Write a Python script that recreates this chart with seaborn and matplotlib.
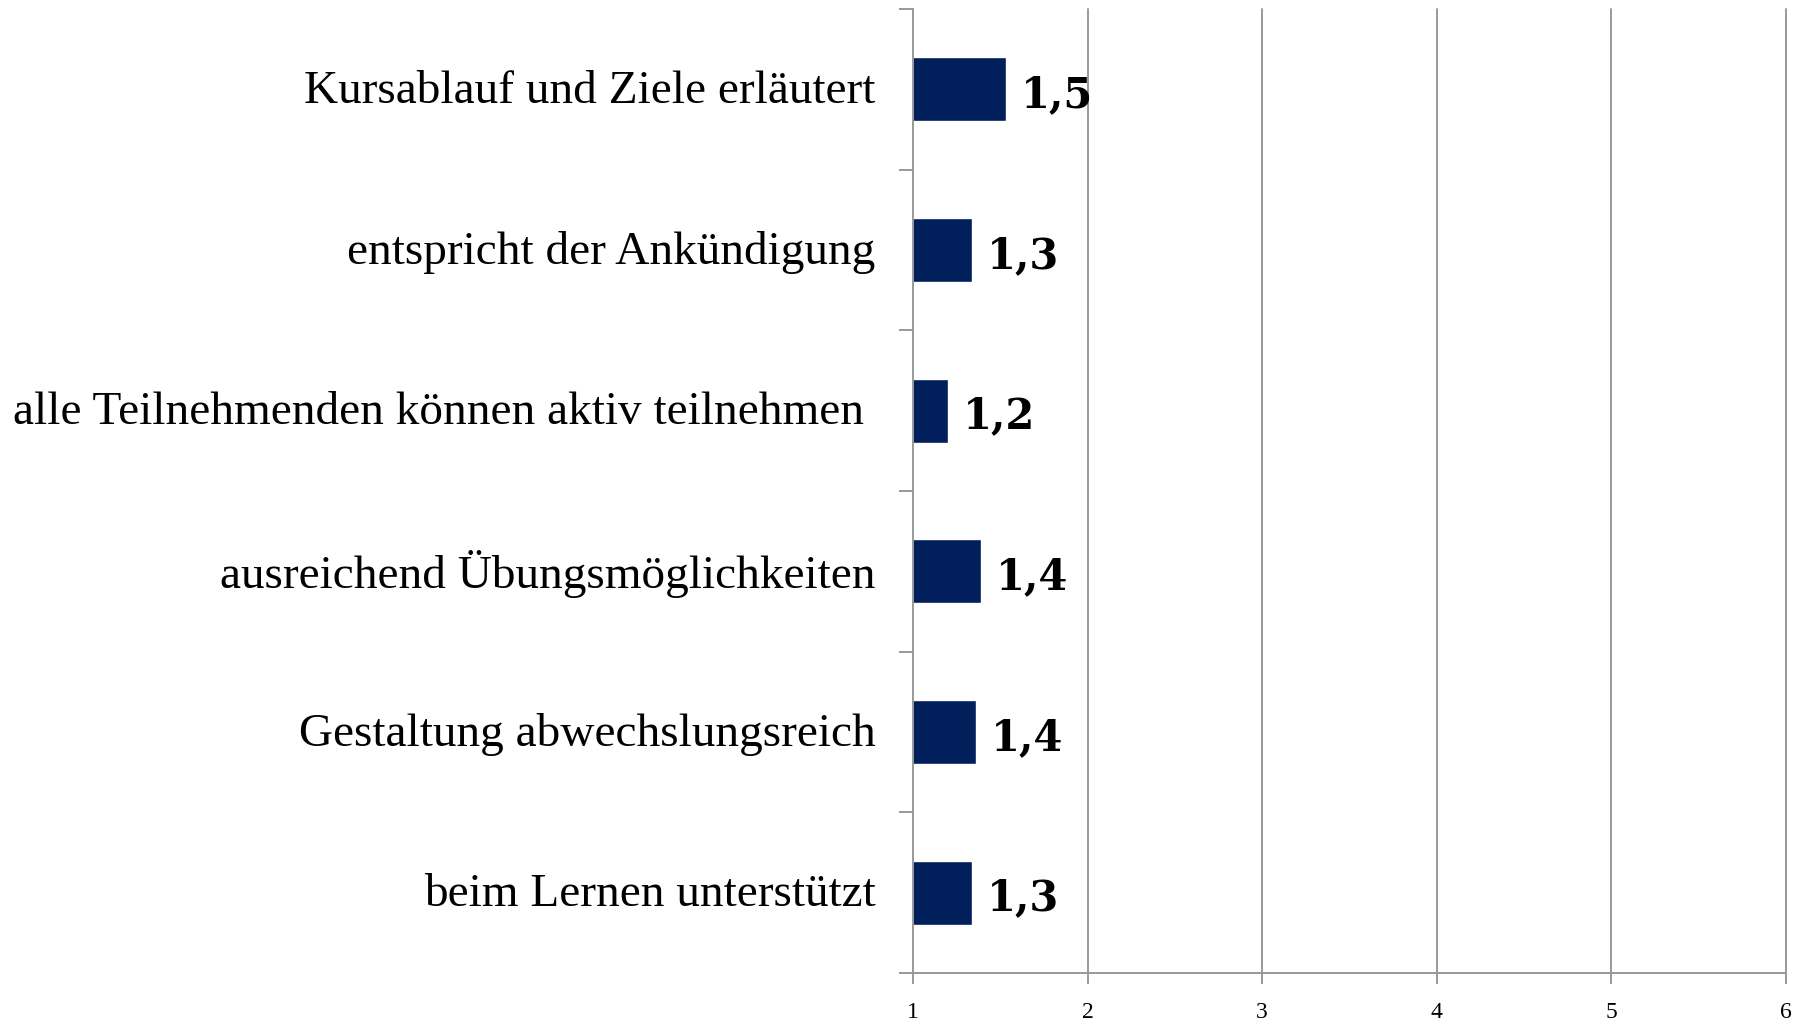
import matplotlib
matplotlib.use("Agg")
import matplotlib.pyplot as plt
import matplotlib.transforms as mtransforms
import seaborn as sns
import pandas as pd
import numpy as np

# Survey items (top to bottom) and mean ratings on a 1-6 scale
categories = [
    "Kursablauf und Ziele erläutert",
    "entspricht der Ankündigung",
    "alle Teilnehmenden können aktiv teilnehmen ",
    "ausreichend Übungsmöglichkeiten",
    "Gestaltung abwechslungsreich",
    "beim Lernen unterstützt",
]
ratings = [1.53, 1.34, 1.20, 1.39, 1.36, 1.34]
x_ticks = [1, 2, 3, 4, 5, 6]

df = pd.DataFrame({"item": categories, "rating": ratings})

sns.set_theme(style="white")
plt.rcParams["font.family"] = ["Liberation Serif", "DejaVu Serif"]

fig = plt.figure(figsize=(18.12, 10.20), dpi=100)
ax = fig.add_axes([913 / 1812, 46 / 1020, 873 / 1812, 964 / 1020])

bar_color = "#011F5B"
grid_color = "#999999"

sns.barplot(data=df, x="rating", y="item", orient="h", color=bar_color,
            width=0.4, saturation=1, ax=ax, errorbar=None)

ax.set_xlim(1, 6)
ax.set_ylim(len(categories) - 0.5, -0.5)

# vertical gridlines
for xv in x_ticks[1:]:
    ax.axvline(xv, color=grid_color, lw=1.4, zorder=0, clip_on=False)

for side in ["top", "right"]:
    ax.spines[side].set_visible(False)
for side in ["left", "bottom"]:
    ax.spines[side].set_color(grid_color)
    ax.spines[side].set_linewidth(1.4)

# category labels without tick marks, tick marks on category boundaries
ax.set_yticks(range(len(categories)))
ax.set_yticklabels(categories, fontsize=34, color="black")
ax.tick_params(axis="y", which="major", length=0, pad=27)
ax.set_yticks(np.arange(-0.5, len(categories), 1.0), minor=True)
ax.tick_params(axis="y", which="minor", length=10, width=1.4,
               color=grid_color, direction="out", left=True)

# nudge the category labels up a little
lift = mtransforms.ScaledTranslation(0, 3.5 / 100, fig.dpi_scale_trans)
for lbl in ax.get_yticklabels():
    lbl.set_transform(lbl.get_transform() + lift)

ax.set_xticks(x_ticks)
ax.set_xticklabels([str(t) for t in x_ticks], fontsize=17, color="black")
ax.tick_params(axis="x", which="major", length=8, width=1.4,
               color=grid_color, direction="out", bottom=True, pad=12)

ax.set_xlabel("")
ax.set_ylabel("")

# value labels next to the bars
for i, v in enumerate(ratings):
    ax.text(v + 0.085, i + 0.03, f"{v:.1f}".replace(".", ","),
            ha="left", va="center", fontsize=30, fontweight="bold",
            color="black", family=["DejaVu Serif"])

fig.savefig("out.png", dpi=100, facecolor="white")
